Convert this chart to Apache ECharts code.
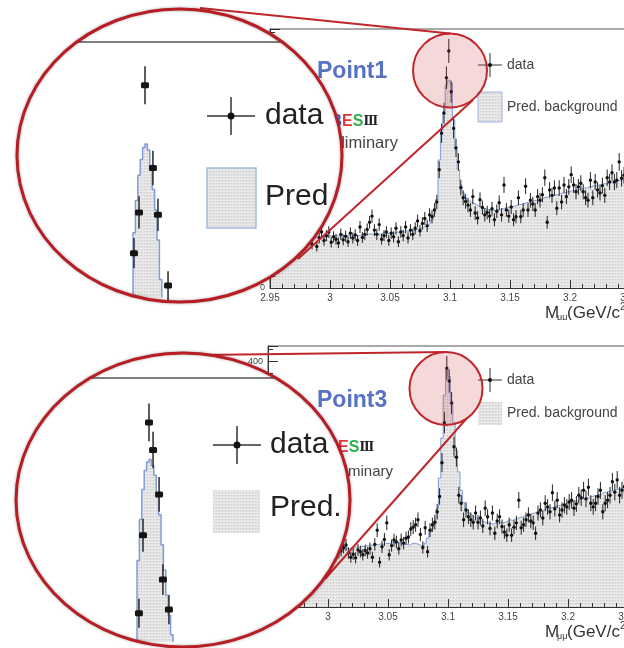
<!DOCTYPE html>
<html><head><meta charset="utf-8">
<script src="https://cdn.jsdelivr.net/npm/echarts@6/dist/echarts.min.js"></script>
<style>html,body{margin:0;padding:0;background:#fff}#c{width:624px;height:648px}</style>
</head><body><div id="c"></div>
<script>
// ---- binning ----
const BIN_START = 2.95, BIN_WIDTH = 0.002;
const X_MIN = 2.95, X_MAX = 3.30, X_STEP = 0.05;
const Y_MIN = 0, Y_MAX = 425, Y_STEP = 100;

// ---- Point1 (top panel) ----
const dataTop = [
 85,78,90,82,76,88,80,84,79,86,
 83,77,88,81,74,85,79,72,90,68,
 82,92,78,86,92,75,84,80,74,88,
 79,85,76,90,82,87,78,100,83,88,
 96,108,118,95,88,104,80,86,92,78,
 90,84,98,76,92,86,100,82,95,88,
 98,110,94,106,114,102,120,117,128,141,
 194,254,287,345,389,322,262,230,207,165,
 148,142,136,128,150,123,115,145,132,120,
 124,118,130,112,126,140,120,169,128,118,
 133,112,117,148,117,128,167,128,144,138,
 128,150,144,153,181,108,161,152,164,131,
 164,141,169,150,166,186,169,158,166,172,
 158,148,144,177,148,174,161,156,168,152,
 181,174,189,174,177,207,180,185,178,190
];
const bkgTop = [
 84,83,85,82,84,83,82,84,83,82,
 83,82,84,83,82,83,84,82,83,84,
 84,85,83,85,86,84,85,86,85,86,
 86,85,87,86,87,88,86,87,88,87,
 88,89,88,90,89,88,90,91,89,90,
 91,90,92,91,93,92,94,93,95,94,
 96,97,98,100,102,104,107,112,122,145,
 210,259,290,333,341,336,276,227,194,169,
 156,148,144,141,139,137,135,133,131,130,
 129,128,128,127,128,129,130,131,132,133,
 134,134,136,137,137,139,140,140,142,143,
 144,146,146,148,149,149,151,152,153,153,
 155,156,156,158,158,160,160,161,162,163,
 164,164,166,166,168,168,169,170,171,171,
 172,173,174,174,176,177,177,178,179,180
];

// ---- Point3 (bottom panel) ----
const dataBottom = [
 90,95,88,92,97,86,93,90,99,87,
 94,89,96,91,85,98,92,88,95,90,
 93,88,96,90,85,99,92,87,94,89,
 92,97,101,88,81,86,80,93,90,85,
 92,88,95,81,102,125,73,98,110,137,
 85,100,109,106,95,109,104,112,114,127,
 130,134,142,118,97,129,90,125,134,138,
 155,180,235,300,389,368,332,261,244,182,
 169,142,158,147,142,138,153,138,145,132,
 161,147,128,153,120,140,147,131,122,117,
 134,117,130,137,174,129,134,142,150,140,
 137,120,153,158,145,169,163,155,186,160,
 174,150,158,166,163,171,174,161,168,182,
 178,190,176,195,169,163,169,180,190,155,
 169,174,182,204,187,207,182,190,196,188
];
const bkgBottom = [
 92,91,93,92,90,91,92,90,91,92,
 91,92,90,92,91,93,92,91,93,92,
 93,92,94,93,92,94,93,95,94,93,
 95,94,96,95,97,96,98,97,99,98,
 100,99,101,100,102,101,103,102,104,103,
 104,105,104,106,105,104,103,102,101,103,
 104,103,102,100,99,104,112,122,128,135,
 160,210,275,345,388,375,335,300,255,220,
 190,170,158,153,150,147,145,142,140,139,
 137,136,136,135,137,136,138,137,138,140,
 142,141,143,144,146,146,148,149,150,152,
 153,154,156,156,158,159,160,162,162,164,
 165,166,167,168,170,170,171,173,173,175,
 176,177,178,179,180,181,182,183,184,186,
 187,188,189,190,191,192,193,194,195,196
];

// ---- magnified views ----
const ZOOM_BIN_START = 3.093, ZOOM_BIN_WIDTH = 0.001;
const zoomTopBkg = [266,293,314,327,337,340,335,322,302,285,260,227];
const zoomTopDataX = [3.0934,3.0955,3.0980,3.1013,3.1034,3.1076];
const zoomTopDataY = [249,283,389,320,281,222];
const zoomBotBkg = [273,307,332,348,355,357,352,344,327,311,286,265,244,227,211];
const zoomBotDataX = [3.0938,3.0955,3.0980,3.0997,3.1022,3.1038,3.1063];
const zoomBotDataY = [229,294,388,365,328,257,232];

const panelLabels = ['Point1','Point3'];
const legendLabels = ['data','Pred. background'];

// ---- helpers ----
const FONT = '"Liberation Sans", Arial, sans-serif';
const pc = document.createElement('canvas'); pc.width = 3; pc.height = 3;
const g = pc.getContext('2d');
g.fillStyle = '#e2e2e2'; g.fillRect(0,0,3,3);
g.fillStyle = '#cacaca'; g.fillRect(0,0,1,1);
g.fillStyle = '#ebebeb'; g.fillRect(0,2,3,1);
const PATTERN = {image: pc, repeat: 'repeat'};

function stepData(start, width, vals, base) {
  const d = [[start, base]];
  vals.forEach((v,i) => d.push([start + width*i, v]));
  d.push([start + width*vals.length, vals[vals.length-1]]);
  d.push([start + width*vals.length, base]);
  return d;
}
function centers(start, width, vals) { return vals.map((v,i) => [start + width*(i+0.5), v]); }

function mainPoints(params, api) {
  const x = api.value(0), y = api.value(1), e = Math.sqrt(y);
  const p = api.coord([x,y]), lo = api.coord([x,y-e]), hi = api.coord([x,y+e]);
  return {type:'group', children:[
    {type:'line', shape:{x1:p[0],y1:lo[1],x2:p[0],y2:hi[1]}, style:{stroke:'#222',lineWidth:1}},
    {type:'circle', shape:{cx:p[0],cy:p[1],r:1.7}, style:{fill:'#111'}}
  ]};
}
function zoomPoints(params, api) {
  const x = api.value(0), y = api.value(1), e = Math.sqrt(y)*0.8;
  const p = api.coord([x,y]), lo = api.coord([x,y-e]), hi = api.coord([x,y+e]);
  return {type:'group', children:[
    {type:'line', shape:{x1:p[0],y1:lo[1],x2:p[0],y2:hi[1]}, style:{stroke:'#333',lineWidth:1.6}},
    {type:'rect', shape:{x:p[0]-4,y:p[1]-3,width:8,height:6,r:1.5}, style:{fill:'#151515'}}
  ]};
}
const fmt = v => String(+v.toFixed(2));

function mainX(gi) {
  return {gridIndex:gi, type:'value', min:X_MIN, max:X_MAX, interval:X_STEP, z:3,
    axisLine:{lineStyle:{color:'#333',width:1}},
    axisTick:{inside:true,length:8,lineStyle:{color:'#333'}},
    minorTick:{show:true,splitNumber:5,length:4,lineStyle:{color:'#333'}},
    axisLabel:{fontSize:10,color:'#444',margin:5,fontFamily:FONT,formatter:fmt},
    splitLine:{show:false}};
}
function mainY(gi) {
  return {gridIndex:gi, type:'value', min:Y_MIN, max:Y_MAX, interval:Y_STEP, z:3,
    axisLine:{show:true,lineStyle:{color:'#333',width:1}},
    axisTick:{show:true,inside:true,length:10,lineStyle:{color:'#333'}},
    minorTick:{show:true,splitNumber:5,length:5,lineStyle:{color:'#333'}},
    axisLabel:{fontSize:9,color:'#444',margin:5,fontFamily:FONT,showMaxLabel:false},
    splitLine:{show:false}};
}
function histSeries(xi, data, z, lw) {
  return {type:'line', xAxisIndex:xi, yAxisIndex:xi, data:data, step:'end', symbol:'none', z:z,
    lineStyle:{color:'#7f9ddb',width:lw}, areaStyle:{color:PATTERN,opacity:1,origin:'start'},
    animation:false, silent:true};
}
function ptSeries(xi, data, z, fn) {
  return {type:'custom', xAxisIndex:xi, yAxisIndex:xi, data:data, z:z, renderItem:fn,
    encode:{x:0,y:1}, animation:false, silent:true};
}

// ---- graphic decorations ----
const RED = '#c0262c';
function txt(x,y,text,font,fill,align,z){ return {type:'text',x:x,y:y,z:z||4,style:{text:text,font:font,fill:fill,align:align||'left',verticalAlign:'middle'}}; }
function ln(x1,y1,x2,y2,stroke,w,z){ return {type:'line',z:z,shape:{x1,y1,x2,y2},style:{stroke:stroke,lineWidth:w}}; }
function bes(x,y){
  return {type:'text',x:x,y:y,z:4,style:{text:'{b|B}{e|E}{s|S}{r|Ⅲ}',align:'right',verticalAlign:'middle',
    rich:{b:{fill:'#3d5ccc',font:'bold 16px '+FONT},e:{fill:'#e0353a',font:'bold 16px '+FONT},
          s:{fill:'#2db14a',font:'bold 16px '+FONT},r:{fill:'#222',font:'bold 12px "DejaVu Serif", serif'}}}};
}
function xTitle(y){
  return [
    txt(545,y,'M','17px '+FONT,'#333','left',4),
    txt(557,y+5,'μμ','9px '+FONT,'#333','left',4),
    txt(567,y,'(GeV/c','17px '+FONT,'#333','left',4),
    txt(620,y-6,'2','10px '+FONT,'#333','left',4)
  ];
}
function legend(cx,cy,boxY,boxH,txtY,stroke){
  const box = {type:'rect',z:4,shape:{x:cx-12,y:boxY,width:24,height:boxH},style:{fill:PATTERN,stroke:stroke||null,lineWidth:1}};
  return [
    ln(cx-12,cy,cx+12,cy,'#333',1,4), ln(cx,cy-12,cx,cy+12,'#333',1,4),
    {type:'circle',z:4,shape:{cx:cx,cy:cy,r:2},style:{fill:'#111'}},
    txt(cx+17,cy,legendLabels[0],'14px '+FONT,'#444','left',4),
    box,
    txt(cx+17,txtY,legendLabels[1],'14px '+FONT,'#444','left',4)
  ];
}
function zoomLegend(cx,cy,boxX,boxY,boxW,boxH,tx,predY,predText,stroke){
  return [
    ln(cx-24,cy,cx+24,cy,'#333',1.5,12), ln(cx,cy-19,cx,cy+19,'#333',1.5,12),
    {type:'circle',z:12,shape:{cx:cx,cy:cy,r:3.5},style:{fill:'#111'}},
    txt(tx,cy,legendLabels[0],'30px '+FONT,'#222','left',12),
    {type:'rect',z:12,shape:{x:boxX,y:boxY,width:boxW,height:boxH},style:{fill:PATTERN,stroke:stroke||null,lineWidth:1.5}},
    txt(tx,predY,predText,'30px '+FONT,'#222','left',12)
  ];
}
const ellTop = {cx:179.5, cy:155.5, rx:162.5, ry:146.5};
const ellBot = {cx:183, cy:500, rx:167, ry:147};

const graphics = [].concat(
  [txt(317,72,panelLabels[0],'bold 23px '+FONT,'#5672c3','left',4), bes(378,122),
   txt(398,143,'Preliminary','16.5px '+FONT,'#444','right',4)],
  legend(490,65,92,30,107,'#9cb4e2'),
  xTitle(313),
  [txt(317,401,panelLabels[1],'bold 23px '+FONT,'#5672c3','left',4), bes(374,448),
   txt(393,472,'Preliminary','15px '+FONT,'#444','right',4)],
  legend(490,380,402,23,413,null),
  xTitle(632),
  [{type:'rect',z:9,shape:{x:0,y:320,width:624,height:14},style:{fill:'#fff'}}],
  // connector lines
  [ln(200,8,450,33.5,RED,2,5), ln(298,259,473,100,RED,2,5),
   ln(200,355,446,352,RED,2,5), ln(325,579,467,418,RED,2,5)],
  // small circles
  [{type:'circle',z:6,shape:{cx:450,cy:70.5,r:37},style:{fill:'rgba(205,60,60,0.2)',stroke:RED,lineWidth:2}},
   {type:'circle',z:6,shape:{cx:446,cy:388.5,r:36.5},style:{fill:'rgba(205,60,60,0.2)',stroke:RED,lineWidth:2}}],
  // big magnifier fills
  [{type:'ellipse',z:10,shape:ellTop,style:{fill:'#fff'}},
   {type:'ellipse',z:10,shape:ellBot,style:{fill:'#fff'}}],
  // magnified frame lines & legends
  [ln(77,42,282,42,'#555',1.5,12), ln(90,378,276,378,'#555',1.5,12)],
  zoomLegend(231,116,207,168,49,60,265,197,'Pred','#a4bbe6'),
  zoomLegend(237,445,213,490,47,43,270,508,'Pred.',null),
  // magnifier rims
  [{type:'ellipse',z:13,shape:ellTop,style:{fill:null,stroke:'#b81d23',lineWidth:3,shadowBlur:3,shadowColor:'rgba(0,0,0,0.35)'}},
   {type:'ellipse',z:13,shape:ellBot,style:{fill:null,stroke:'#b81d23',lineWidth:3,shadowBlur:3,shadowColor:'rgba(0,0,0,0.35)'}}]
);

const chart = echarts.init(document.getElementById('c'), null, {renderer:'canvas'});
chart.setOption({
  animation:false,
  backgroundColor:'#fff',
  grid:[
    {left:270, top:29, width:420, height:259, show:true, borderColor:'#555', borderWidth:1, outerBoundsMode:'none', containLabel:false},
    {left:268, top:346, width:420, height:261, show:true, borderColor:'#555', borderWidth:1, outerBoundsMode:'none', containLabel:false},
    {left:5.8, top:42, width:312, height:255.6, show:false, outerBoundsMode:'none'},
    {left:9.8, top:378, width:312, height:264, show:false, outerBoundsMode:'none'}
  ],
  xAxis:[mainX(0), mainX(1),
    {gridIndex:2,type:'value',min:3.04,max:3.17,show:false},
    {gridIndex:3,type:'value',min:3.04,max:3.17,show:false}],
  yAxis:[mainY(0), mainY(1),
    {gridIndex:2,type:'value',min:212,max:425,show:false},
    {gridIndex:3,type:'value',min:205,max:425,show:false}],
  series:[
    histSeries(0, stepData(BIN_START,BIN_WIDTH,bkgTop,0), 2, 1),
    ptSeries(0, centers(BIN_START,BIN_WIDTH,dataTop), 3, mainPoints),
    histSeries(1, stepData(BIN_START,BIN_WIDTH,bkgBottom,0), 2, 1),
    ptSeries(1, centers(BIN_START,BIN_WIDTH,dataBottom), 3, mainPoints),
    histSeries(2, stepData(ZOOM_BIN_START,ZOOM_BIN_WIDTH,zoomTopBkg,212), 11, 1.5),
    ptSeries(2, zoomTopDataX.map((x,i)=>[x,zoomTopDataY[i]]), 12, zoomPoints),
    histSeries(3, stepData(ZOOM_BIN_START,ZOOM_BIN_WIDTH,zoomBotBkg,205), 11, 1.5),
    ptSeries(3, zoomBotDataX.map((x,i)=>[x,zoomBotDataY[i]]), 12, zoomPoints)
  ],
  graphic:{elements:graphics}
});
</script></body></html>
